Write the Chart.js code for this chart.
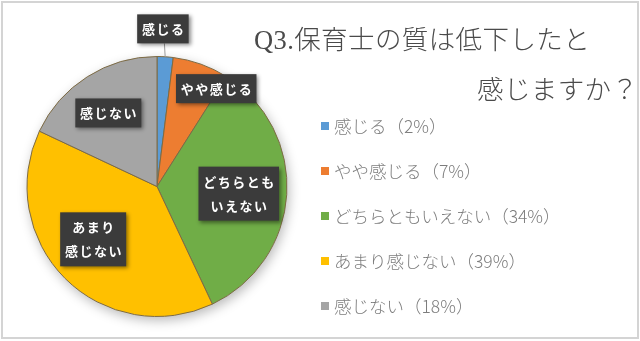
<!DOCTYPE html>
<html lang="ja">
<head>
<meta charset="utf-8">
<title>Q3 保育士の質</title>
<script src="https://cdn.jsdelivr.net/npm/chart.js@4"></script>
<style>
  body { margin: 0; background: #fff; }
  #contenedor { position: relative; width: 640px; height: 341px; }
  #marco {
    position: absolute; left: 1px; top: 1px; width: 634px; height: 334px;
    border: 2px solid #d4d4d4; pointer-events: none;
  }
  #leyenda {
    position: absolute; left: 321px; top: 115px; margin: 0; padding: 0;
    list-style: none; font-family: "Noto Sans CJK JP", sans-serif;
    font-size: 17.5px; font-weight: 300; color: #7d7d7d;
  }
  #leyenda li { height: 45px; line-height: 22px; white-space: nowrap; }
  #leyenda span.caja {
    display: inline-block; width: 8px; height: 8px; margin-right: 5px;
    vertical-align: 3px;
  }
</style>
</head>
<body>
<div id="contenedor">
  <canvas id="grafico-q3" width="640" height="341"></canvas>
  <ul id="leyenda"></ul>
  <div id="marco"></div>
</div>
<script>
const categorias = ['感じる', 'やや感じる', 'どちらともいえない', 'あまり感じない', '感じない'];
const porcentajes = [2, 7, 34, 39, 18];
const textosEtiqueta = [['感じる'], ['やや感じる'], ['どちらとも', 'いえない'], ['あまり', '感じない'], ['感じない']];
const tituloLineas = ['Q3.保育士の質は低下したと', '感じますか？'];

const colores = ['#5b9bd5', '#ed7d31', '#70ad47', '#ffc000', '#a5a5a5'];
// posicion de cada etiqueta: fraccion del radio sobre el angulo medio + ajuste en px
const ubicaciones = [
  { frac: 1.215, dx: -4, dy: 0 },
  { frac: 0.80, dx: 24, dy: 0 },
  { frac: 0.63, dx: 0, dy: 2 },
  { frac: 0.64, dx: -5, dy: -6 },
  { frac: 0.67, dx: -2, dy: 0 }
];

(function () {
  const sombraPastel = {
    id: 'sombraPastel',
    beforeDatasetsDraw(chart) {
      const arco = chart.getDatasetMeta(0).data[0];
      if (!arco) return;
      const ctx = chart.ctx;
      ctx.save();
      ctx.shadowColor = 'rgba(0,0,0,0.28)';
      ctx.shadowBlur = 12;
      ctx.shadowOffsetX = 2;
      ctx.shadowOffsetY = 4;
      ctx.fillStyle = '#ffffff';
      ctx.beginPath();
      ctx.arc(arco.x, arco.y, arco.outerRadius, 0, Math.PI * 2);
      ctx.fill();
      ctx.restore();
    }
  };

  const etiquetasOscuras = {
    id: 'etiquetasOscuras',
    afterDatasetsDraw(chart) {
      const ctx = chart.ctx;
      const arcos = chart.getDatasetMeta(0).data;
      ctx.save();
      ctx.font = 'bold 13px "Noto Sans CJK JP", sans-serif';
      ctx.letterSpacing = '1.5px';
      ctx.textAlign = 'center';
      ctx.textBaseline = 'middle';
      arcos.forEach((arco, i) => {
        const medio = (arco.startAngle + arco.endAngle) / 2;
        const u = ubicaciones[i];
        const r = arco.outerRadius;
        const cx = arco.x + Math.cos(medio) * r * u.frac + u.dx;
        const cy = arco.y + Math.sin(medio) * r * u.frac + u.dy;
        const lineas = textosEtiqueta[i];
        const ancho = Math.max(...lineas.map(t => ctx.measureText(t).width)) + 8;
        const alto = lineas.length > 1 ? 54 : 29;
        const x0 = cx - ancho / 2;
        const y0 = cy - alto / 2;

        // linea guia para la etiqueta que queda fuera del pastel
        if (u.frac > 1) {
          ctx.strokeStyle = '#9a9a9a';
          ctx.lineWidth = 1;
          ctx.beginPath();
          ctx.moveTo(cx + 1.5, y0 + alto);
          ctx.lineTo(arco.x + Math.cos(medio) * r, arco.y + Math.sin(medio) * r);
          ctx.stroke();
        }

        ctx.save();
        ctx.shadowColor = 'rgba(0,0,0,0.45)';
        ctx.shadowBlur = 4;
        ctx.shadowOffsetX = 2;
        ctx.shadowOffsetY = 2;
        ctx.fillStyle = '#3b3b3b';
        ctx.fillRect(x0, y0, ancho, alto);
        ctx.restore();

        ctx.fillStyle = '#ffffff';
        lineas.forEach((t, j) => {
          const ty = cy + (j - (lineas.length - 1) / 2) * 24;
          ctx.fillText(t, cx + 0.75, ty);
        });
      });
      ctx.restore();
    }
  };

  const tituloDerecha = {
    id: 'tituloDerecha',
    afterDraw(chart) {
      const ctx = chart.ctx;
      ctx.save();
      ctx.font = '300 26.5px "Liberation Serif", "Noto Sans CJK JP", serif';
      ctx.letterSpacing = '0.4px';
      ctx.fillStyle = '#4a4a4a';
      ctx.textBaseline = 'middle';
      ctx.textAlign = 'left';
      ctx.fillText(tituloLineas[0], 254, 42);
      ctx.fillText(tituloLineas[1], 477, 92);
      ctx.restore();
    }
  };

  const ctx = document.getElementById('grafico-q3');
  const grafico = new Chart(ctx, {
    type: 'pie',
    data: {
      labels: categorias,
      datasets: [{
        data: porcentajes,
        backgroundColor: colores,
        borderColor: '#7d6b45',
        borderWidth: 1
      }]
    },
    options: {
      responsive: false,
      animation: false,
      layout: {
        padding: { left: 26, right: 352, top: 56, bottom: 24 }
      },
      plugins: {
        legend: { display: false },
        tooltip: { enabled: false }
      }
    },
    plugins: [sombraPastel, etiquetasOscuras, tituloDerecha]
  });

  // leyenda en HTML con los mismos colores del grafico
  const lista = document.getElementById('leyenda');
  const items = Chart.overrides.pie.plugins.legend.labels.generateLabels(grafico);
  items.forEach((item, i) => {
    const li = document.createElement('li');
    const caja = document.createElement('span');
    caja.className = 'caja';
    caja.style.background = item.fillStyle;
    li.appendChild(caja);
    li.appendChild(document.createTextNode(`${categorias[i]}（${porcentajes[i]}%）`));
    lista.appendChild(li);
  });
})();
</script>
</body>
</html>
